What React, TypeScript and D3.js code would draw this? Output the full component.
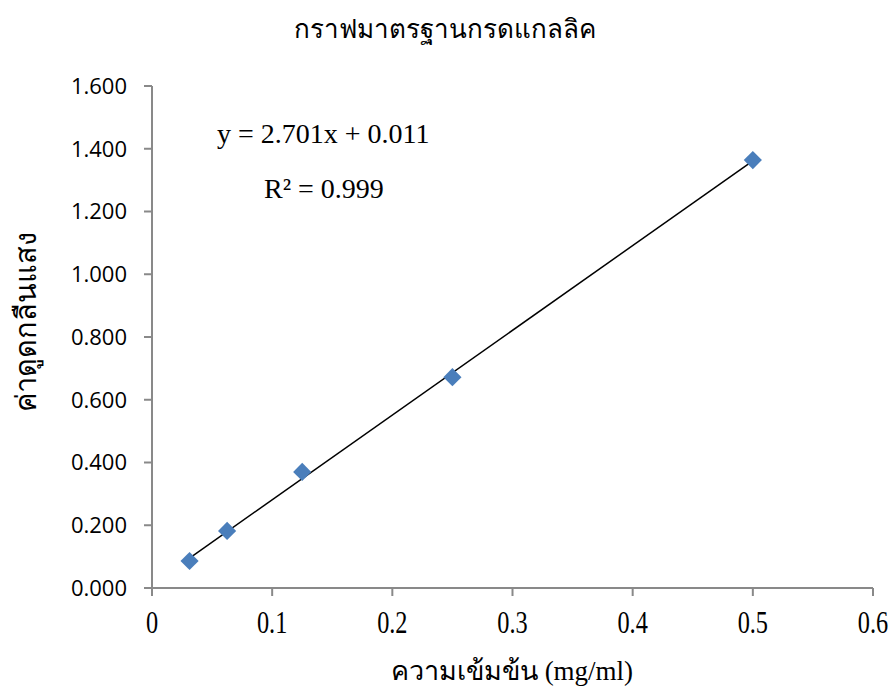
import React from "react";
import * as d3 from "d3";

// standard curve data (gallic acid)
const concentration = [0.03125, 0.0625, 0.125, 0.25, 0.5];
const absorbance = [0.086, 0.182, 0.37, 0.672, 1.364];
const xTicks = [0, 0.1, 0.2, 0.3, 0.4, 0.5, 0.6];
const yTicks = [0, 0.2, 0.4, 0.6, 0.8, 1.0, 1.2, 1.4, 1.6];
const slope = 2.701;
const intercept = 0.011;

const W = 895;
const H = 691;
const left = 152;
const right = 873;
const top = 86;
const bottom = 588;

const App = () => {
  const x = d3.scaleLinear().domain([0, 0.6]).range([left, right]);
  const y = d3.scaleLinear().domain([0, 1.6]).range([bottom, top]);

  const xMin = d3.min(concentration);
  const xMax = d3.max(concentration);
  const trend = d3
    .line()
    .x((d) => x(d))
    .y((d) => y(slope * d + intercept))([xMin, xMax]);

  const diamond = d3.symbol().type(d3.symbolSquare).size(165)();

  const axisColor = "#898989";
  const thai = "'Liberation Serif', 'Noto Sans', serif";

  return (
    <svg
      width={W}
      height={H}
      style={{ position: "absolute", left: 0, top: 0 }}
    >
      <rect width={W} height={H} fill="#fff" />

      {/* title */}
      <text
        x={445}
        y={38}
        textAnchor="middle"
        fontFamily={thai}
        fontSize={26}
        fill="#000"
      >
        กราฟมาตรฐานกรดแกลลิค
      </text>

      {/* y axis */}
      <line x1={left} x2={left} y1={top} y2={bottom + 8} stroke={axisColor} strokeWidth={2} />
      {yTicks.map((t) => (
        <g key={"y" + t}>
          <line x1={left - 8} x2={left} y1={y(t)} y2={y(t)} stroke={axisColor} strokeWidth={2} />
          <text
            x={127}
            y={y(t)}
            dy="0.36em"
            textAnchor="end"
            fontFamily="'Open Sans', 'Liberation Sans', sans-serif"
            fontSize={22}
            fill="#000"
          >
            {t.toFixed(3)}
          </text>
        </g>
      ))}

      {/* x axis */}
      <line x1={left - 8} x2={right} y1={bottom} y2={bottom} stroke={axisColor} strokeWidth={2} />
      {xTicks.map((t) => (
        <g key={"x" + t}>
          <line x1={x(t)} x2={x(t)} y1={bottom} y2={bottom + 8} stroke={axisColor} strokeWidth={2} />
          <text
            x={x(t)}
            y={633}
            textAnchor="middle"
            fontFamily={thai}
            fontSize={32}
            fill="#000"
            transform={`translate(${x(t)},0) scale(0.76,1) translate(${-x(t)},0)`}
          >
            {String(t)}
          </text>
        </g>
      ))}

      {/* axis titles */}
      <text
        x={512}
        y={680}
        textAnchor="middle"
        fontFamily={thai}
        fontSize={27}
        fill="#000"
      >
        ความเข้มข้น (mg/ml)
      </text>
      <text
        transform={`translate(36,322) rotate(-90)`}
        textAnchor="middle"
        fontFamily="'Noto Sans', 'DejaVu Sans', sans-serif"
        fontSize={29}
        fill="#000"
      >
        ค่าดูดกลืนแสง
      </text>

      {/* trendline */}
      <path d={trend} fill="none" stroke="#000" strokeWidth={1.5} />

      {/* points */}
      {concentration.map((c, i) => (
        <path
          key={"p" + i}
          d={diamond}
          transform={`translate(${x(c)},${y(absorbance[i])}) rotate(45)`}
          fill="#4A7EBB"
        />
      ))}

      {/* equation */}
      <text x={217} y={143} fontFamily="'Liberation Serif', serif" fontSize={28} fill="#000">
        y = 2.701x + 0.011
      </text>
      <text x={264} y={198} fontFamily="'Liberation Serif', serif" fontSize={28} fill="#000">
        R² = 0.999
      </text>
    </svg>
  );
};

export default App;
